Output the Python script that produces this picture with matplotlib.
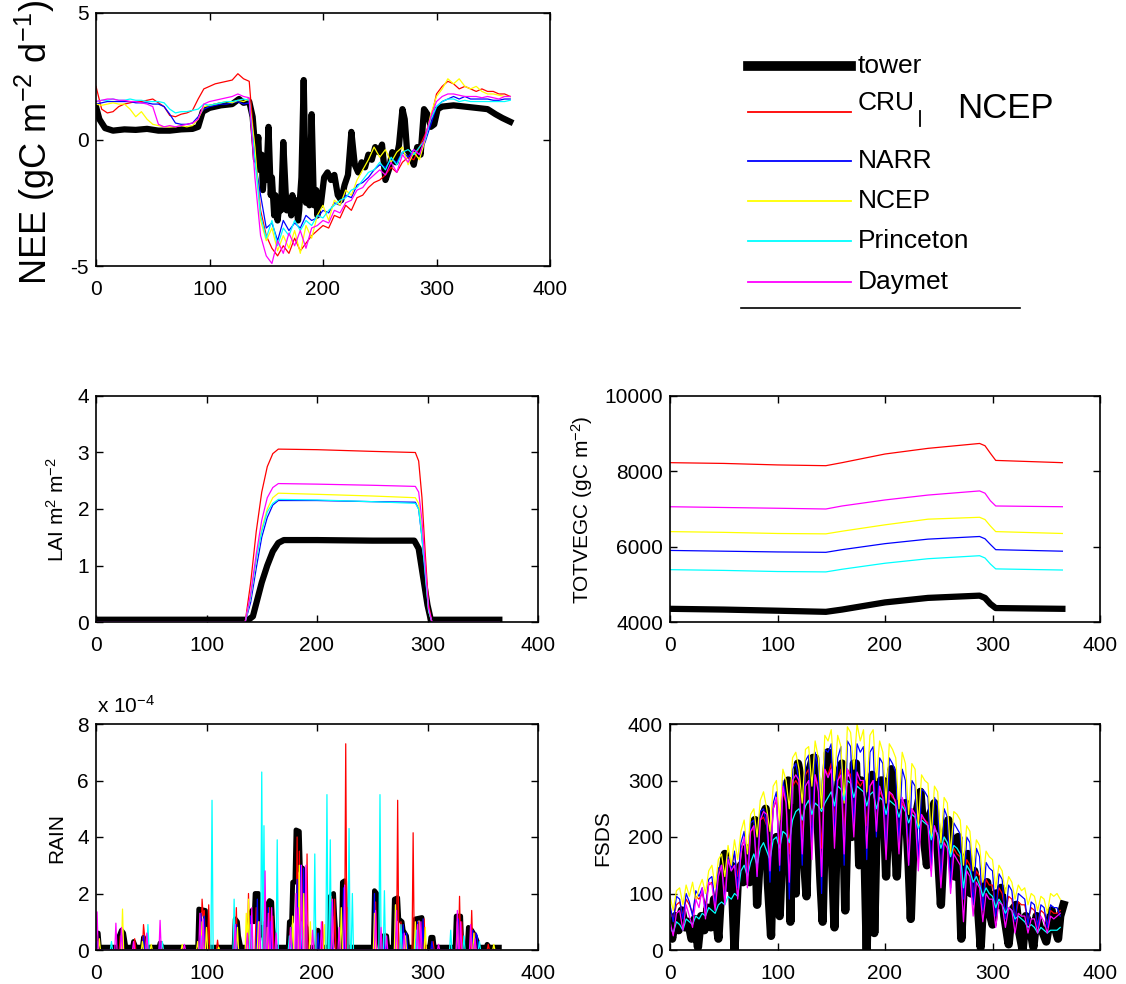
import numpy as np
import matplotlib
matplotlib.use("Agg")
import matplotlib.pyplot as plt

plt.rcParams['font.family'] = ['Liberation Sans', 'DejaVu Sans']
plt.rcParams['mathtext.fontset'] = 'custom'
plt.rcParams['mathtext.rm'] = 'Liberation Sans'
plt.rcParams['mathtext.it'] = 'Liberation Sans'

W, H = 1126, 984

names = ['tower', 'CRU', 'NARR', 'NCEP', 'Princeton', 'Daymet']
colors = ['black', 'red', 'blue', 'yellow', 'cyan', 'magenta']

# ---------------- NEE (gC m-2 d-1) ----------------
days5 = np.arange(0, 366, 5)

nee_tower_pts = [(0, 1.3), (3, 0.8), (8, 0.45), (15, 0.35), (25, 0.4), (35, 0.38), (45, 0.42),
                 (55, 0.35), (65, 0.35), (75, 0.4), (85, 0.42), (90, 0.5), (94, 1.1), (100, 1.25),
                 (110, 1.35), (120, 1.4), (126, 1.6), (130, 1.45), (135, 1.5), (138, 0.9),
                 (140, -0.2), (141, -0.8), (143, 0.1), (144, -1.2), (146, -0.6), (147, -2.0),
                 (149, -0.8), (150, -1.6), (152, 0.5), (154, -2.2), (155, -1.5), (157, -3.0),
                 (158, -2.2), (160, -3.2), (162, -2.4), (163, -2.8), (165, -0.1), (167, -2.0),
                 (168, -2.8), (170, -2.4), (172, -3.0), (173, -2.2), (175, -2.8), (176, -2.4),
                 (178, -3.2), (179, -2.8), (181, -1.5), (183, 2.35), (185, -2.5), (187, -1.8),
                 (188, -2.6), (190, 1.0), (192, -2.6), (194, -2.0), (195, -3.0), (197, -2.2),
                 (198, -2.6), (201, -1.5), (204, -1.3), (207, -1.6), (210, -1.4), (213, -2.2),
                 (216, -2.4), (219, -1.8), (222, -1.4), (225, 0.3), (228, -1.0), (231, -1.3),
                 (234, -0.9), (237, -1.1), (240, -0.6), (243, -0.8), (246, -0.3), (249, -0.5),
                 (252, -0.2), (255, -1.6), (258, -1.2), (261, -0.5), (264, -0.9), (267, -0.2),
                 (270, 1.2), (272, 0.8), (274, -0.4), (277, -0.6), (280, -1.0), (283, -0.3),
                 (286, -0.6), (289, 1.2), (292, 1.0), (295, 0.5), (298, 0.6), (301, 1.2),
                 (305, 1.3), (315, 1.35), (325, 1.3), (335, 1.25), (345, 1.2), (352, 1.0),
                 (358, 0.85), (365, 0.7)]

nee_cru = [2.1, 1.2, 1.05, 1.1, 1.3, 1.4, 1.45, 1.5, 1.5, 1.55,
           1.6, 1.45, 1.3, 0.95, 0.9, 1.0, 1.05, 1.15, 1.6, 2.0,
           2.1, 2.2, 2.25, 2.3, 2.35, 2.6, 2.4, 2.3, -0.5, -2.8,
           -3.8, -4.3, -4.6, -4.2, -4.5, -3.9, -4.4, -4.1, -3.8, -3.6,
           -3.4, -3.5, -3.0, -3.1, -2.6, -2.8, -2.3, -2.2, -1.9, -1.7,
           -1.6, -1.4, -1.1, -1.3, -0.9, -0.7, -0.8, -0.3, 0.2, 0.8,
           1.8, 2.1, 2.3, 2.2, 2.0, 2.1, 2.0, 1.9, 2.0, 1.9,
           1.9, 1.8, 1.8, 1.7]
nee_narr = [1.4, 1.45, 1.5, 1.5, 1.5, 1.5, 1.5, 1.45, 1.45, 1.45,
            1.4, 1.4, 1.3, 1.0, 0.65, 0.6, 0.6, 0.65, 0.9, 1.2,
            1.3, 1.35, 1.4, 1.4, 1.45, 1.5, 1.4, 1.45, -0.8, -2.2,
            -3.5, -3.3, -4.0, -3.2, -3.6, -3.3, -3.5, -3.0, -3.2, -3.1,
            -2.8, -2.9, -2.5, -2.6, -2.2, -2.3, -1.8, -1.7, -1.5, -1.2,
            -1.0, -1.1, -0.8, -0.9, -0.5, -0.7, -0.4, -0.6, -0.1, 0.6,
            1.3, 1.5, 1.6, 1.7, 1.6, 1.7, 1.6, 1.6, 1.6, 1.6,
            1.55, 1.55, 1.6, 1.6]
nee_ncep = [1.4, 1.35, 1.4, 1.45, 1.4, 1.4, 1.2, 0.9, 1.1, 0.8,
            0.6, 0.55, 0.5, 0.5, 0.5, 0.55, 0.5, 0.55, 0.8, 1.3,
            1.35, 1.4, 1.45, 1.5, 1.45, 1.55, 1.5, 1.6, -0.3, -3.2,
            -4.0, -3.5, -4.4, -3.8, -4.3, -3.6, -4.5, -3.4, -3.9, -3.0,
            -2.6, -3.2, -2.4, -2.6, -2.0, -2.2, -1.6, -1.2, -0.8, -0.3,
            -0.7, -0.4, -0.9, -0.5, -0.3, -1.0, -0.5, -0.8, 0.0, 1.0,
            1.7, 2.0, 2.4, 2.2, 2.4, 2.1, 2.0, 2.1, 1.9, 1.8,
            1.8, 1.75, 1.7, 1.7]
nee_princeton = [1.5, 1.55, 1.55, 1.6, 1.55, 1.55, 1.6, 1.55, 1.55, 1.5,
                 1.5, 1.5, 1.45, 1.2, 1.05, 1.1, 1.1, 1.15, 1.2, 1.4,
                 1.35, 1.4, 1.45, 1.5, 1.5, 1.55, 1.6, 1.55, -0.8, -3.0,
                 -3.9, -3.2, -4.2, -3.5, -3.8, -3.2, -3.6, -3.2, -3.4, -3.0,
                 -3.1, -2.8, -2.6, -2.4, -2.3, -2.0, -1.9, -1.6, -1.3, -1.2,
                 -0.9, -1.2, -0.7, -1.0, -0.5, -0.4, -0.6, -0.3, 0.0, 0.8,
                 1.3, 1.5, 1.6, 1.6, 1.5, 1.55, 1.5, 1.5, 1.5, 1.5,
                 1.5, 1.5, 1.5, 1.55]
nee_daymet = [1.5, 1.55, 1.6, 1.6, 1.55, 1.55, 1.5, 1.5, 1.45, 1.4,
              1.3, 0.6, 0.5, 0.55, 0.5, 0.55, 0.6, 0.65, 0.8, 1.4,
              1.5, 1.55, 1.6, 1.65, 1.7, 1.8, 1.7, 1.65, -1.5, -3.8,
              -4.6, -4.9, -4.0, -4.5, -3.7, -4.2, -3.6, -4.3, -3.5, -3.4,
              -3.2, -3.3, -2.8, -2.9, -2.5, -2.4, -2.0, -1.9, -1.6, -1.4,
              -1.2, -1.4, -0.9, -1.3, -0.6, -0.9, -0.4, -0.6, 0.1, 0.9,
              1.5, 1.7, 1.8, 1.8, 1.75, 1.7, 1.7, 1.7, 1.65, 1.7,
              1.65, 1.6, 1.7, 1.7]

# ---------------- LAI ----------------
lai_days = [0, 135, 140, 145, 150, 155, 160, 165, 200, 250, 289, 292, 295, 298, 301, 304, 365]
lai_tower_days = [0, 138, 142, 146, 150, 155, 160, 165, 170, 200, 250, 288, 292, 296, 300, 303, 365]
lai_tower = [0.04, 0.04, 0.1, 0.4, 0.7, 1.0, 1.25, 1.4, 1.45, 1.45, 1.44, 1.44, 1.3, 0.8, 0.3, 0.04, 0.04]
lai_cru = [0, 0, 0.7, 1.6, 2.3, 2.75, 2.98, 3.06, 3.05, 3.02, 3.0, 2.85, 2.2, 1.2, 0.3, 0, 0]
lai_narr = [0, 0, 0.35, 0.95, 1.5, 1.85, 2.07, 2.15, 2.15, 2.13, 2.12, 2.0, 1.5, 0.8, 0.2, 0, 0]
lai_ncep = [0, 0, 0.45, 1.1, 1.65, 2.0, 2.2, 2.28, 2.26, 2.23, 2.2, 2.1, 1.6, 0.9, 0.2, 0, 0]
lai_princeton = [0, 0, 0.45, 1.1, 1.6, 1.95, 2.1, 2.17, 2.16, 2.13, 2.1, 2.0, 1.5, 0.85, 0.2, 0, 0]
lai_daymet = [0, 0, 0.5, 1.2, 1.8, 2.2, 2.38, 2.45, 2.44, 2.42, 2.4, 2.3, 1.8, 1.0, 0.25, 0, 0]

# ---------------- TOTVEGC (gC m-2) ----------------
veg_days = [0, 50, 100, 145, 160, 200, 240, 288, 293, 298, 303, 365]
veg_tower = [4350, 4330, 4300, 4270, 4330, 4520, 4640, 4700, 4640, 4480, 4370, 4350]
veg_cru = [8230, 8210, 8170, 8150, 8230, 8460, 8610, 8740, 8680, 8480, 8290, 8230]
veg_narr = [5900, 5880, 5860, 5850, 5920, 6080, 6200, 6270, 6210, 6060, 5920, 5880]
veg_ncep = [6400, 6380, 6350, 6340, 6410, 6580, 6730, 6780, 6720, 6550, 6400, 6350]
veg_princeton = [5390, 5370, 5340, 5330, 5400, 5560, 5680, 5760, 5700, 5540, 5410, 5380]
veg_daymet = [7060, 7040, 7020, 7000, 7080, 7240, 7370, 7480, 7420, 7220, 7080, 7060]

# ---------------- RAIN (x 1e-4) ----------------
rain_tower_pts = [(0, 0.6), (2, 0.6), (3, 0.1), (20, 0.1), (21, 0.5), (23, 0.7), (25, 0.6), (27, 0.1),
                  (33, 0.1), (34, 0.3), (36, 0.1), (42, 0.1), (43, 0.45), (45, 0.1), (57, 0.1), (58, 0.25),
                  (60, 0.1), (92, 0.1), (93, 1.45), (99, 1.4), (100, 0.1), (125, 0.1), (126, 1.1),
                  (128, 1.0), (129, 0.5), (131, 0.1), (138, 0.1), (139, 1.0), (141, 1.4), (143, 1.0),
                  (144, 2.0), (147, 2.0), (148, 0.5), (151, 0.8), (153, 0.1), (155, 1.6), (157, 1.75),
                  (159, 1.7), (160, 0.8), (162, 0.1), (174, 0.1), (175, 1.0), (177, 1.0), (178, 2.4),
                  (180, 2.4), (181, 4.25), (184, 4.2), (185, 2.8), (187, 2.9), (188, 1.0), (190, 0.8),
                  (191, 0.1), (200, 0.1), (201, 0.7), (203, 0.1), (211, 0.1), (212, 1.9), (215, 2.0),
                  (216, 1.2), (218, 0.1), (222, 0.1), (223, 2.4), (225, 2.45), (226, 0.5), (227, 0.1),
                  (251, 0.1), (252, 2.1), (254, 2.0), (255, 0.6), (257, 0.1), (259, 0.1), (260, 0.5),
                  (263, 0.5), (264, 0.1), (269, 0.1), (270, 1.8), (273, 1.85), (274, 1.1), (277, 1.0),
                  (278, 0.7), (281, 0.5), (282, 0.1), (288, 0.1), (289, 1.1), (295, 1.15), (296, 0.1),
                  (302, 0.1), (303, 0.45), (305, 0.45), (306, 0.1), (325, 0.1), (326, 1.2), (330, 1.2),
                  (331, 0.1), (336, 0.1), (337, 0.8), (340, 0.7), (343, 0.5), (345, 0.3), (346, 0.1),
                  (353, 0.1), (354, 0.2), (356, 0.1), (365, 0.1)]
rain_cru_events = [(0, 0.3), (22, 0.5), (35, 0.4), (43, 0.9), (44, 0.5), (59, 0.3), (96, 1.8), (97, 1.2),
                   (98, 1.4), (102, 1.6), (110, 0.35), (127, 1.5), (138, 2.0), (140, 1.2), (145, 1.5),
                   (152, 1.0), (157, 1.5), (160, 1.2), (176, 0.8), (182, 4.0), (184, 3.5), (191, 3.4),
                   (199, 0.8), (205, 1.0), (213, 1.9), (216, 1.8), (226, 7.3), (228, 1.5), (253, 1.7),
                   (262, 0.6), (273, 5.3), (276, 1.0), (287, 4.15), (292, 1.0), (297, 1.1), (305, 0.3),
                   (329, 1.9), (331, 1.0), (340, 1.4), (343, 0.6), (355, 0.2)]
rain_narr_events = [(1, 0.3), (23, 0.6), (43, 0.5), (58, 0.3), (95, 1.3), (98, 1.2), (127, 0.9), (140, 1.2),
                    (146, 1.8), (156, 1.5), (158, 1.0), (177, 0.8), (182, 2.5), (185, 3.0), (188, 2.9),
                    (201, 0.6), (213, 1.7), (224, 2.2), (252, 2.0), (262, 0.5), (271, 1.6), (278, 0.9),
                    (281, 0.6), (291, 1.0), (296, 1.1), (304, 0.3), (328, 1.1), (341, 0.7), (344, 0.6),
                    (345, 0.5)]
rain_ncep_events = [(3, 0.4), (24, 1.45), (42, 0.3), (50, 0.2), (78, 0.2), (92, 0.3), (96, 1.0), (100, 0.8),
                    (111, 0.1), (128, 0.8), (136, 1.3), (138, 1.8), (147, 1.0), (155, 0.8), (178, 1.2),
                    (184, 3.0), (188, 2.0), (194, 1.0), (207, 0.9), (214, 1.2), (222, 1.5), (252, 1.3),
                    (271, 1.6), (280, 0.5), (289, 1.0), (298, 0.8), (327, 1.0), (342, 0.6), (360, 0.2)]
rain_princeton_events = [(14, 0.3), (47, 0.9), (60, 0.3), (95, 0.5), (105, 5.3), (125, 1.8), (140, 0.9),
                         (150, 6.3), (152, 4.4), (164, 3.9), (175, 0.5), (186, 1.0), (198, 3.4), (209, 5.5),
                         (212, 3.9), (229, 4.3), (232, 2.0), (257, 5.5), (261, 2.1), (276, 0.9), (290, 0.7),
                         (321, 0.7), (333, 0.5), (347, 0.3)]
rain_daymet_events = [(1, 1.35), (18, 0.95), (23, 0.8), (34, 0.3), (46, 0.6), (58, 1.05), (80, 0.2), (94, 1.3),
                      (97, 1.1), (126, 0.9), (137, 0.6), (141, 1.5), (148, 1.0), (153, 2.8), (156, 1.3),
                      (159, 1.5), (163, 0.6), (176, 0.8), (181, 2.0), (183, 1.5), (186, 3.0), (190, 3.0),
                      (196, 0.7), (204, 1.0), (214, 1.8), (220, 0.8), (225, 2.3), (253, 1.4), (258, 0.8),
                      (263, 0.5), (272, 1.4), (279, 0.6), (291, 0.9), (294, 1.0), (310, 0.2), (327, 1.4),
                      (330, 1.0), (339, 0.9), (343, 0.4)]

# ---------------- FSDS ----------------
days3 = np.arange(0, 366, 3)

fsds_tower_pts = [(0, 40), (2, 20), (5, 60), (8, 35), (11, 70), (14, 40), (17, 50), (20, 20), (23, 55), (26, 5),
                  (29, 60), (32, 35), (35, 75), (38, 40), (41, 90), (45, 20), (48, 120), (51, 170), (54, 110),
                  (57, 150), (60, 0), (63, 120), (66, 150), (68, 120), (71, 180), (74, 120), (77, 200),
                  (79, 230), (81, 80), (84, 180), (87, 240), (89, 250), (91, 120), (94, 25), (96, 180),
                  (99, 200), (102, 60), (105, 200), (107, 260), (110, 300), (112, 50), (114, 250), (117, 100),
                  (119, 330), (122, 300), (125, 150), (127, 95), (130, 320), (133, 340), (135, 340),
                  (138, 200), (140, 120), (142, 50), (145, 300), (147, 350), (150, 200), (153, 40),
                  (156, 280), (158, 320), (160, 330), (163, 70), (166, 300), (169, 200), (171, 330),
                  (173, 330), (176, 150), (178, 300), (180, 250), (183, 0), (185, 200), (188, 310), (190, 30),
                  (193, 280), (196, 300), (198, 300), (201, 130), (204, 280), (206, 320), (209, 200),
                  (211, 130), (214, 260), (217, 240), (219, 260), (222, 150), (224, 55), (227, 220),
                  (230, 250), (233, 280), (236, 200), (239, 150), (242, 240), (246, 260), (249, 180),
                  (252, 80), (255, 200), (259, 230), (262, 180), (265, 130), (268, 200), (271, 20),
                  (274, 150), (277, 170), (280, 100), (283, 140), (286, 90), (289, 5), (292, 110), (295, 120),
                  (298, 60), (300, 45), (303, 100), (306, 80), (308, 110), (311, 60), (315, 10), (318, 70),
                  (322, 80), (325, 30), (328, 0), (331, 60), (335, 40), (338, 5), (341, 60), (344, 40),
                  (347, 30), (350, 15), (353, 50), (355, 70), (358, 40), (361, 20), (363, 60), (366, 80)]
fsds_cru = [70, 55, 80, 85, 60, 90, 80, 65, 95, 90,
            100, 80, 115, 120, 90, 140, 150, 100, 165, 150,
            170, 130, 180, 195, 140, 210, 215, 150, 230, 235,
            220, 160, 250, 265, 180, 280, 260, 170, 290, 300,
            290, 200, 310, 320, 220, 310, 290, 180, 320, 310,
            330, 230, 300, 320, 210, 320, 310, 240, 300, 290,
            300, 220, 290, 300, 230, 280, 270, 200, 280, 270,
            265, 200, 260, 250, 180, 250, 240, 170, 235, 230,
            225, 150, 215, 205, 140, 200, 190, 120, 180, 170,
            165, 100, 160, 150, 95, 140, 130, 85, 125, 115,
            115, 70, 110, 100, 65, 95, 90, 55, 85, 80,
            80, 50, 75, 70, 45, 70, 65, 45, 70, 65,
            65, 70]
fsds_narr = [80, 50, 95, 90, 55, 100, 85, 60, 105, 95,
             110, 70, 125, 130, 80, 145, 150, 90, 165, 140,
             175, 110, 190, 210, 120, 225, 230, 130, 245, 250,
             220, 120, 260, 280, 140, 300, 270, 90, 320, 330,
             300, 150, 335, 345, 180, 350, 320, 100, 355, 350,
             365, 200, 340, 360, 150, 370, 360, 220, 365, 350,
             360, 160, 350, 360, 200, 340, 330, 170, 340, 330,
             315, 190, 320, 300, 150, 300, 290, 160, 285, 280,
             270, 140, 270, 255, 120, 250, 235, 110, 225, 215,
             205, 90, 200, 190, 80, 180, 165, 70, 155, 145,
             140, 60, 135, 125, 55, 115, 105, 50, 100, 95,
             90, 45, 85, 80, 40, 80, 75, 40, 80, 75,
             75, 60]
fsds_ncep = [95, 70, 105, 110, 80, 115, 95, 120, 85, 110,
             125, 100, 140, 150, 110, 160, 170, 130, 185, 150,
             195, 160, 210, 230, 170, 240, 250, 200, 265, 280,
             250, 210, 290, 300, 230, 320, 300, 250, 340, 350,
             320, 260, 355, 360, 290, 370, 340, 250, 380, 370,
             390, 300, 380, 360, 260, 395, 385, 320, 400, 370,
             390, 280, 380, 390, 300, 370, 350, 260, 365, 355,
             340, 250, 350, 330, 240, 330, 320, 220, 310, 300,
             295, 200, 290, 280, 190, 270, 260, 170, 245, 240,
             230, 150, 220, 210, 140, 195, 185, 120, 175, 165,
             160, 110, 150, 140, 100, 130, 120, 90, 115, 105,
             110, 80, 100, 95, 70, 95, 90, 65, 100, 95,
             100, 90]
fsds_princeton = [40, 30, 50, 45, 35, 55, 50, 45, 60, 55,
                  65, 60, 75, 70, 65, 80, 85, 80, 95, 90,
                  100, 95, 140, 150, 130, 155, 170, 150, 180, 190,
                  175, 160, 195, 200, 180, 210, 205, 190, 230, 245,
                  250, 230, 255, 265, 240, 260, 255, 245, 260, 270,
                  280, 255, 290, 285, 265, 300, 295, 270, 290, 285,
                  280, 255, 275, 280, 250, 270, 265, 240, 265, 260,
                  255, 235, 255, 245, 225, 240, 235, 215, 230, 225,
                  220, 195, 215, 205, 180, 200, 190, 165, 185, 180,
                  170, 110, 150, 140, 120, 130, 115, 95, 110, 100,
                  95, 75, 90, 80, 65, 75, 70, 55, 60, 55,
                  50, 40, 45, 40, 30, 40, 35, 30, 35, 35,
                  35, 40]
fsds_daymet = [50, 25, 65, 70, 35, 80, 60, 40, 90, 75,
               110, 55, 120, 115, 70, 130, 150, 80, 160, 140,
               150, 90, 170, 200, 110, 210, 220, 130, 230, 245,
               240, 140, 250, 270, 150, 290, 260, 120, 300, 310,
               300, 170, 290, 300, 160, 310, 280, 130, 320, 305,
               320, 180, 300, 310, 170, 320, 300, 200, 315, 300,
               300, 180, 290, 300, 210, 290, 270, 160, 280, 275,
               260, 170, 270, 250, 150, 250, 240, 140, 240, 230,
               220, 130, 220, 200, 110, 190, 180, 100, 170, 160,
               150, 50, 140, 130, 60, 120, 110, 50, 100, 90,
               90, 40, 85, 80, 40, 75, 70, 30, 65, 60,
               60, 30, 55, 55, 30, 60, 50, 30, 60, 55,
               60, 65]


def rain_daily(events):
    r = np.zeros(366)
    for d, v in events:
        r[d] = v
    return r * 1e-4


fig = plt.figure(figsize=(W / 100, H / 100), dpi=100)


def px_axes(l, t, r, b):
    return fig.add_axes([l / W, 1 - b / H, (r - l) / W, (b - t) / H])


def style(ax, ylim, yticks, yticklabels=None):
    ax.set_xlim(0, 400)
    ax.set_ylim(*ylim)
    ax.set_xticks([0, 100, 200, 300, 400])
    ax.set_yticks(yticks)
    if yticklabels is not None:
        ax.set_yticklabels(yticklabels)
    ax.tick_params(direction='in', top=True, right=True, length=5, width=1, labelsize=15)
    ax.tick_params(axis='x', pad=10)
    ax.tick_params(axis='y', pad=5)
    for s in ax.spines.values():
        s.set_linewidth(1.2)


# NEE panel
ax1 = px_axes(96, 13, 550, 266)
tx, ty = zip(*nee_tower_pts)
ax1.plot(tx, ty, color='black', lw=4.5)
for vals, c in zip([nee_cru, nee_narr, nee_ncep, nee_princeton, nee_daymet], colors[1:]):
    ax1.plot(days5, vals, color=c, lw=0.9)
style(ax1, (-5, 5), [-5, 0, 5], ['-5', '0', '5'])
fig.text(35 / W, 1 - 142 / H, 'NEE (gC m$^{-2}$ d$^{-1}$)', rotation=90,
         ha='center', va='center', fontsize=26)

# legend (drawn by hand, only the bottom edge of its box is visible)
leg_y = [66, 112, 161, 201, 241, 282]
for name, c, yy in zip(names, colors, leg_y):
    lw = 7 if name == 'tower' else 1.3
    fig.add_artist(plt.Line2D([748 / W, 851 / W], [1 - yy / H, 1 - yy / H], color=c, lw=lw))
    ty_ = yy - 9 if name == 'CRU' else yy
    fig.text(858 / W, 1 - ty_ / H, name, ha='left', va='center', fontsize=19)
fig.add_artist(plt.Line2D([920 / W, 920 / W], [1 - 111 / H, 1 - 126 / H], color='black', lw=1.3))
fig.text(957 / W, 1 - 108 / H, 'NCEP', ha='left', va='center', fontsize=25)
fig.add_artist(plt.Line2D([741 / W, 1020 / W], [1 - 308 / H, 1 - 308 / H], color='black', lw=1.2))

# LAI panel
ax2 = px_axes(96, 396, 538, 622)
ax2.plot(lai_tower_days, lai_tower, color='black', lw=4.5)
for vals, c in zip([lai_cru, lai_narr, lai_ncep, lai_princeton, lai_daymet], colors[1:]):
    ax2.plot(lai_days, vals, color=c, lw=0.9)
style(ax2, (0, 4), [0, 1, 2, 3, 4])
fig.text(57 / W, 1 - 510 / H, 'LAI m$^{2}$ m$^{-2}$', rotation=90, ha='center', va='center', fontsize=15)

# TOTVEGC panel
ax3 = px_axes(670, 396, 1100, 622)
ax3.plot(veg_days, veg_tower, color='black', lw=4.5)
for vals, c in zip([veg_cru, veg_narr, veg_ncep, veg_princeton, veg_daymet], colors[1:]):
    ax3.plot(veg_days, vals, color=c, lw=0.9)
style(ax3, (4000, 10000), [4000, 6000, 8000, 10000])
fig.text(582 / W, 1 - 510 / H, 'TOTVEGC (gC m$^{-2}$)', rotation=90, ha='center', va='center', fontsize=15)

# RAIN panel
ax4 = px_axes(96, 724, 538, 950)
rx, ry = zip(*rain_tower_pts)
ax4.plot(rx, np.array(ry) * 1e-4, color='black', lw=3.5)
days1 = np.arange(366)
for ev, c in zip([rain_cru_events, rain_narr_events, rain_ncep_events, rain_princeton_events,
                  rain_daymet_events], colors[1:]):
    ax4.plot(days1, rain_daily(ev), color=c, lw=0.9)
style(ax4, (0, 8e-4), [0, 2e-4, 4e-4, 6e-4, 8e-4], ['0', '2', '4', '6', '8'])
fig.text(97 / W, 1 - 706 / H, 'x 10$^{-4}$', ha='left', va='center', fontsize=15)
fig.text(57 / W, 1 - 838 / H, 'RAIN', rotation=90, ha='center', va='center', fontsize=15)

# FSDS panel
ax5 = px_axes(670, 724, 1100, 950)
fx, fy = zip(*fsds_tower_pts)
ax5.plot(fx, fy, color='black', lw=6)
for vals, c in zip([fsds_cru, fsds_narr, fsds_ncep, fsds_princeton, fsds_daymet], colors[1:]):
    ax5.plot(days3, vals, color=c, lw=0.9)
style(ax5, (0, 400), [0, 100, 200, 300, 400])
fig.text(603 / W, 1 - 838 / H, 'FSDS', rotation=90, ha='center', va='center', fontsize=15)

fig.savefig('out.png', dpi=100)
